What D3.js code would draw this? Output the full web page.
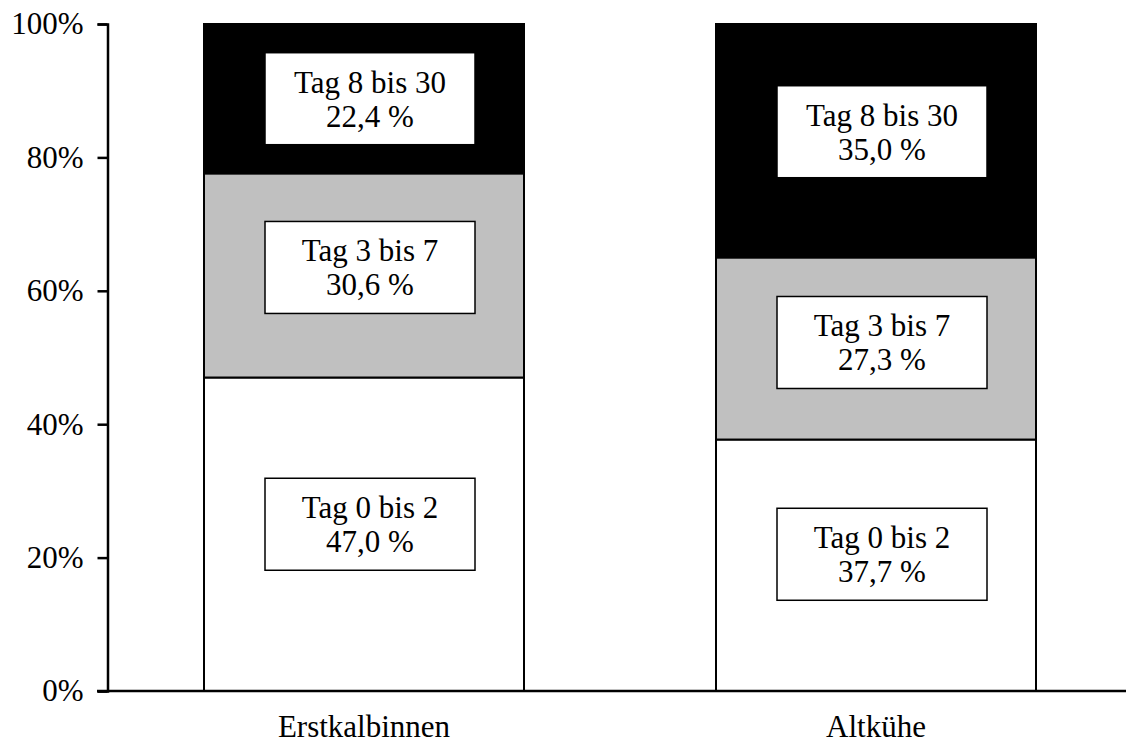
<!DOCTYPE html>
<html>
<head>
<meta charset="utf-8">
<script src="https://cdn.jsdelivr.net/npm/d3@7"></script>
<style>
  html, body { margin: 0; padding: 0; background: #fff; }
  svg { display: block; }
  text { font-family: "Liberation Serif", "Times New Roman", serif; fill: #000; }
</style>
</head>
<body>
<svg id="chart" width="1126" height="744"></svg>
<script>
// Share of events by period after calving (%)
const categories = ["Erstkalbinnen", "Altkühe"];
const periods = ["Tag 0 bis 2", "Tag 3 bis 7", "Tag 8 bis 30"];
const erstkalbinnen = [47.0, 30.6, 22.4];
const altkuehe = [37.7, 27.3, 35.0];
const yTicks = [0, 20, 40, 60, 80, 100];

const seriesByCategory = [erstkalbinnen, altkuehe];
const fills = ["#ffffff", "#c0c0c0", "#000000"];
// vertical nudge of each label box from its segment centre (px)
const labelNudge = [[-10, -8, 0], [-11, -6, -9]];

const svg = d3.select("#chart");
const fontSize = 31;

const x = d3.scaleBand()
  .domain(categories)
  .range([108, 1132])
  .paddingInner(0.375)
  .paddingOuter(0.1875);

const y = d3.scaleLinear().domain([0, 100]).range([691, 24]);

// stacked segments
const rows = categories.map((c, i) => {
  const r = { category: c };
  periods.forEach((p, j) => r[p] = seriesByCategory[i][j]);
  return r;
});
const stack = d3.stack().keys(periods)(rows);

const gBars = svg.append("g");
stack.forEach((layer, j) => {
  gBars.selectAll(null)
    .data(layer)
    .enter().append("rect")
    .attr("x", d => x(d.data.category))
    .attr("y", d => y(d[1]))
    .attr("width", x.bandwidth())
    .attr("height", d => y(d[0]) - y(d[1]))
    .attr("fill", fills[j])
    .attr("stroke", "#000")
    .attr("stroke-width", 2);
});

// y axis
const yAxis = d3.axisLeft(y)
  .tickValues(yTicks)
  .tickFormat(d => d + "%")
  .tickSizeOuter(0)
  .tickSize(10)
  .tickPadding(14);
const gy = svg.append("g").attr("transform", "translate(107.5,0)").call(yAxis);
gy.select(".domain").attr("stroke", "#000").attr("stroke-width", 2.5);
gy.selectAll(".tick line").attr("stroke", "#000").attr("stroke-width", 2.5);
gy.selectAll(".tick text")
  .style("font-family", "'Liberation Serif', 'Times New Roman', serif")
  .style("font-size", fontSize + "px")
  .attr("fill", "#000");

// x axis
svg.append("line")
  .attr("x1", 97).attr("x2", 1126)
  .attr("y1", y(0)).attr("y2", y(0))
  .attr("stroke", "#000").attr("stroke-width", 2.5);

svg.append("g").selectAll("text")
  .data(categories)
  .enter().append("text")
  .attr("x", d => x(d) + x.bandwidth() / 2)
  .attr("y", 737)
  .attr("text-anchor", "middle")
  .style("font-size", fontSize + "px")
  .text(d => d);

// segment labels in white boxes
const boxW = 210, boxH = 92;
const gLabels = svg.append("g");
stack.forEach((layer, j) => {
  layer.forEach((d, i) => {
    const cx = x(d.data.category) + x.bandwidth() / 2 + 6;
    const cy = (y(d[0]) + y(d[1])) / 2 + labelNudge[i][j];
    const g = gLabels.append("g");
    g.append("rect")
      .attr("x", cx - boxW / 2)
      .attr("y", cy - boxH / 2)
      .attr("width", boxW)
      .attr("height", boxH)
      .attr("fill", "#fff")
      .attr("stroke", "#000")
      .attr("stroke-width", 1.5);
    const v = seriesByCategory[i][j];
    g.append("text")
      .attr("x", cx).attr("y", cy - 6)
      .attr("text-anchor", "middle")
      .style("font-size", fontSize + "px")
      .text(periods[j]);
    g.append("text")
      .attr("x", cx).attr("y", cy + 28)
      .attr("text-anchor", "middle")
      .style("font-size", fontSize + "px")
      .text(v.toFixed(1).replace(".", ",") + " %");
  });
});
</script>
</body>
</html>
